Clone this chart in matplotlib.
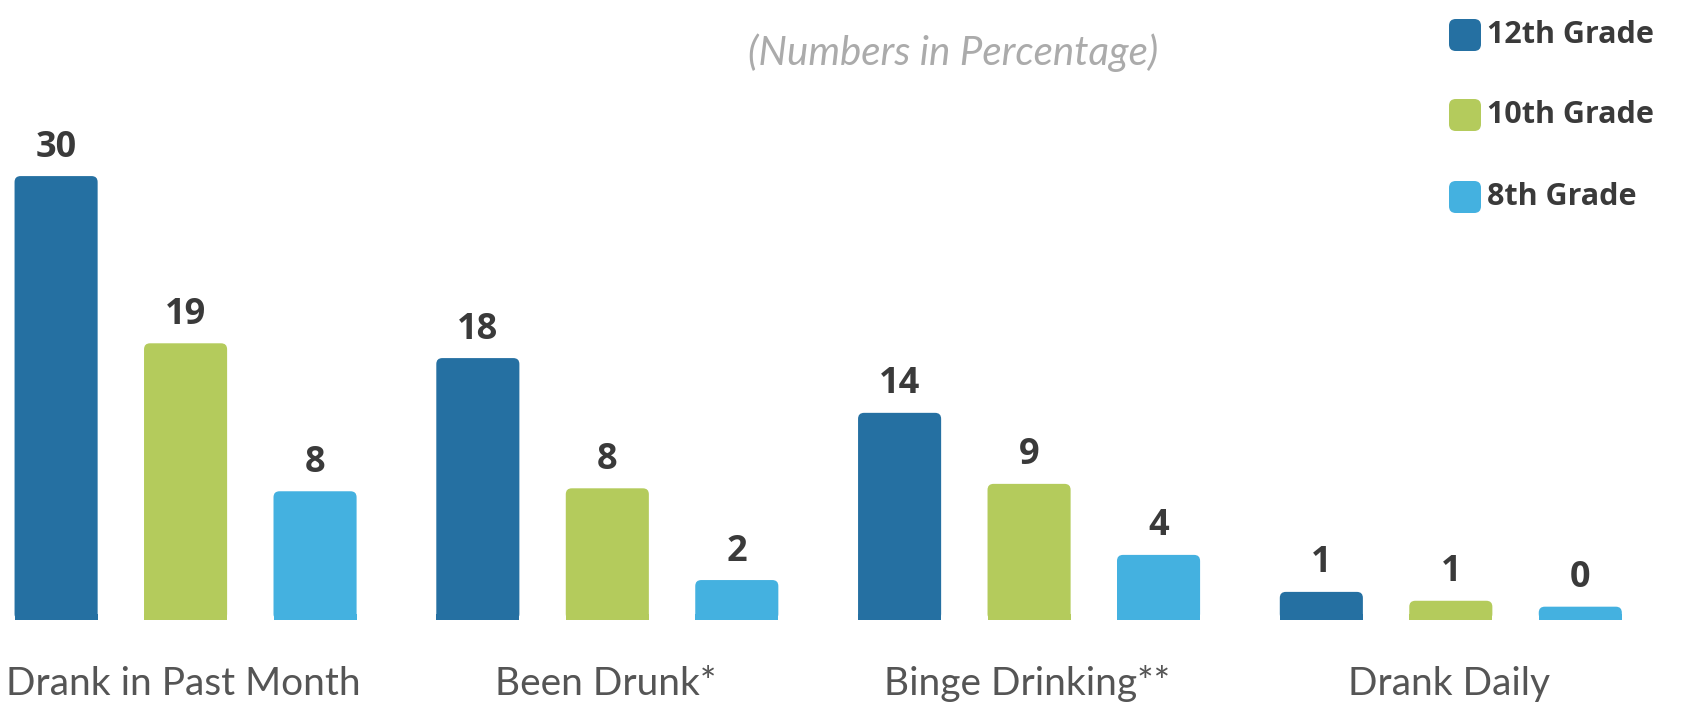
import matplotlib
matplotlib.use("Agg")
import matplotlib.pyplot as plt
from matplotlib.patches import FancyBboxPatch
from matplotlib.transforms import blended_transform_factory

# categories and series (bar heights, labels as printed)
categories = ["Drank in Past Month", "Been Drunk*", "Binge Drinking**", "Drank Daily"]
grades = ["12th Grade", "10th Grade", "8th Grade"]
grade12 = [30.0, 17.7, 14.0, 1.9]
grade10 = [18.7, 8.9, 9.2, 1.3]
grade8 = [8.7, 2.7, 4.4, 0.9]
labels12 = [30, 18, 14, 1]
labels10 = [19, 8, 9, 1]
labels8 = [8, 2, 4, 0]

colors = ["#2570a2", "#b4cb5c", "#44b1e0"]
narrow = ["Lato", "DejaVu Sans"]

W, H, DPI = 1687, 708, 100
fig = plt.figure(figsize=(W / DPI, H / DPI), dpi=DPI)
fig.patch.set_facecolor("white")

base_px = 620  # baseline, pixels from top
ax = fig.add_axes([0, (H - base_px) / H, 1, base_px / H])
ax.set_xlim(-0.44, 3.56)
ax.set_ylim(0, 41.9)
ax.axis("off")

px_x = W / (3.56 + 0.44)
px_y = base_px / 41.9

gap = 0.307
width = 0.197
radius = 6  # px, rounded top corners

series = [grade12, grade10, grade8]
series_labels = [labels12, labels10, labels8]

for j, (vals, labs) in enumerate(zip(series, series_labels)):
    xs = [i + (j - 1) * gap for i in range(len(categories))]
    bars = ax.bar(xs, vals, width=width, color=colors[j], linewidth=0)
    for rect, lab in zip(bars, labs):
        x0, w, h = rect.get_x(), rect.get_width(), rect.get_height()
        rx = radius / px_x
        ry = radius / px_y
        ax.add_patch(FancyBboxPatch((x0, 0), w, h,
                                    boxstyle=f"round,pad=0,rounding_size={rx}",
                                    mutation_aspect=ry / rx,
                                    facecolor=colors[j], linewidth=0))
        # keep the bottom corners square
        rect.set_height(min(h, ry))
        ax.annotate(str(lab), (x0 + w / 2, h), xytext=(0, 14),
                    textcoords="offset points", ha="center", va="baseline",
                    fontsize=26, fontweight="bold", family="Open Sans",
                    color="#3a3a3a")

# category names under the groups
trans = blended_transform_factory(ax.transData, fig.transFigure)
for i, name in enumerate(categories):
    ax.text(i - 0.005, (H - 695) / H, name, transform=trans, ha="center",
            va="baseline", fontsize=28, family=narrow, color="#555555")

fig.text(953 / W, (H - 65) / H, "(Numbers in Percentage)", ha="center",
         va="baseline", fontsize=29, style="italic", family=narrow,
         color="#ababab")

# legend
rows = [35, 115, 197]
for g, c, yc in zip(grades, colors, rows):
    fig.patches.append(FancyBboxPatch((1449 / W, (H - yc - 16) / H), 32 / W, 32 / H,
                                      boxstyle="round,pad=0,rounding_size=0.004",
                                      mutation_aspect=W / H,
                                      transform=fig.transFigure,
                                      facecolor=c, linewidth=0))
    fig.text(1487 / W, (H - yc) / H, g, ha="left", va="center",
             fontsize=22, fontweight="bold", family="Open Sans", color="#3a3a3a")

fig.savefig("out.png", dpi=DPI, facecolor="white")
